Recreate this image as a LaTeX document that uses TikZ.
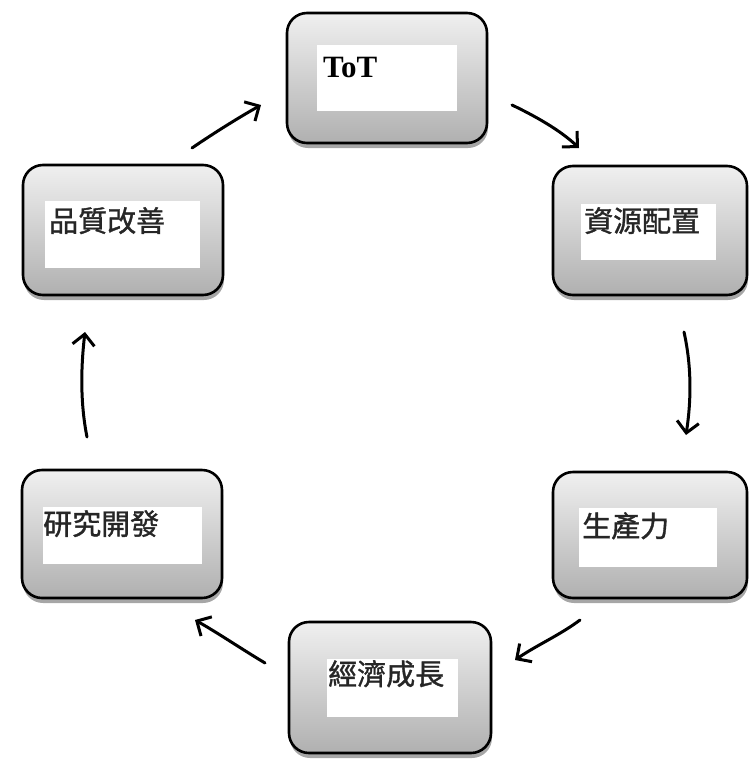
\documentclass[tikz,border=0pt]{standalone}
\usepackage{fontspec}
\setmainfont{Liberation Serif}
\newfontfamily\cjk[FakeBold=1.2]{Noto Sans CJK TC}
\usetikzlibrary{arrows.meta,shadows}
\begin{document}
\begin{tikzpicture}[x=1pt,y=-1pt,
  boxnode/.style={draw=black, line width=2.6pt, rounded corners=20pt,
    top color=gray!12, bottom color=gray!62, inner sep=0pt,
    drop shadow={shadow xshift=1pt, shadow yshift=-5pt, opacity=0.35, fill=black}},
  labelbg/.style={fill=white, draw=none, inner sep=0pt},
  cjklabel/.style={anchor=north west, inner sep=0pt, font=\cjk\fontsize{29}{31}\selectfont, text=black!85},
  cyc/.style={line width=3pt, line cap=round, -{Straight Barb[length=11pt,width=22pt,line width=3pt]}}
]
\useasboundingbox[fill=white] (0,0) rectangle (748,763);

% boxes
\node[boxnode, minimum width=200pt, minimum height=130pt] (tot) at (387,78) {};
\node[boxnode, minimum width=194pt, minimum height=129pt] (zy) at (650,230.5) {};
\node[boxnode, minimum width=194pt, minimum height=126pt] (sc) at (650,535) {};
\node[boxnode, minimum width=202pt, minimum height=131pt] (jj) at (390,687.5) {};
\node[boxnode, minimum width=200pt, minimum height=128pt] (yj) at (122,534) {};
\node[boxnode, minimum width=200pt, minimum height=130pt] (pz) at (123,230) {};

% white label areas
\node[labelbg, minimum width=140pt, minimum height=66pt] (totbg) at (387,78) {};
\node[labelbg, minimum width=135pt, minimum height=56pt] (zybg) at (648.5,232) {};
\node[labelbg, minimum width=138pt, minimum height=59pt] (scbg) at (648,537.5) {};
\node[labelbg, minimum width=131pt, minimum height=58pt] (jjbg) at (392.5,688) {};
\node[labelbg, minimum width=159pt, minimum height=57pt] (yjbg) at (122.5,535.5) {};
\node[labelbg, minimum width=155pt, minimum height=67pt] (pzbg) at (122.5,234.5) {};

% texts
\node[anchor=north west, inner sep=0pt, font=\bfseries\fontsize{31}{32}\selectfont] (tott) at (323,57) {ToT};
\node[cjklabel] (zyt) at (584,207) {資源配置};
\node[cjklabel] (sct) at (582,512) {生產力};
\node[cjklabel] (jjt) at (328,660) {經濟成長};
\node[cjklabel] (yjt) at (43,510) {研究開發};
\node[cjklabel] (pzt) at (49,207) {品質改善};

% arrow end points
\coordinate (a1s) at (512,105); \coordinate (a1e) at (579,148);
\coordinate (a2s) at (684,332); \coordinate (a2e) at (686,435);
\coordinate (a3s) at (580,620); \coordinate (a3e) at (515,660);
\coordinate (a4s) at (265,663); \coordinate (a4e) at (195,620);
\coordinate (a5s) at (87,437);  \coordinate (a5e) at (85,332);
\coordinate (a6s) at (192,148); \coordinate (a6e) at (261,105);

\draw[cyc] (a1s) .. controls (535,116) and (560,130) .. (a1e);
\draw[cyc] (a2s) .. controls (692,368) and (691,402) .. (a2e);
\draw[cyc] (a3s) .. controls (560,635) and (537,645) .. (a3e);
\draw[cyc] (a4s) .. controls (240,648) and (218,633) .. (a4e);
\draw[cyc] (a5s) .. controls (80,402) and (81,366) .. (a5e);
\draw[cyc] (a6s) .. controls (214,133) and (238,118) .. (a6e);
\end{tikzpicture}
\end{document}
